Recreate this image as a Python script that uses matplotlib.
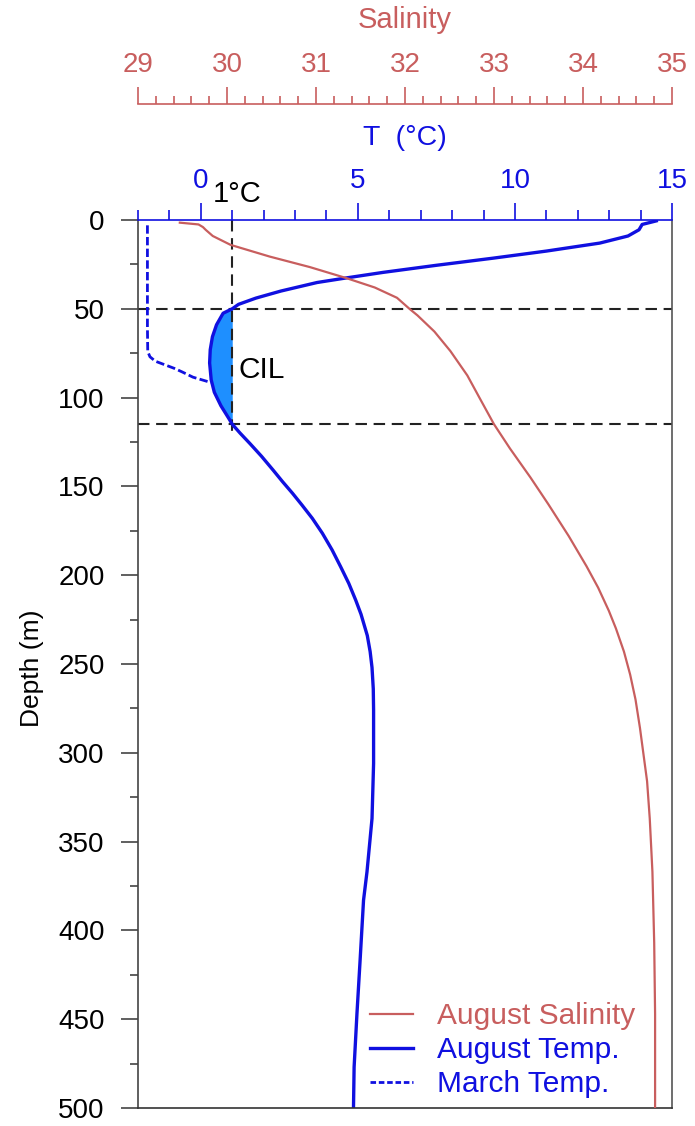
import numpy as np
import matplotlib.pyplot as plt
from matplotlib.ticker import MultipleLocator
from matplotlib.lines import Line2D

plt.rcParams['font.family'] = ['Liberation Sans', 'DejaVu Sans']

# August temperature profile (depth m, T degC)
aug_depth = np.array([0.5, 2.5, 5.5, 9, 13, 17.5, 21.5, 25.5, 29.5, 32.7, 35.2, 40, 44, 47.5,
                      50, 52.5, 59, 65.7, 73, 80.5, 90, 97, 104.6, 112, 115,
                      120, 126, 133, 140.8, 147.3, 153.9, 160.5, 168, 176.4, 185.8,
                      195.2, 204.6, 214, 222, 234, 243, 252, 264, 276, 306,
                      337, 367, 383, 417, 447, 477, 500])
aug_temp = np.array([14.5, 14.05, 13.95, 13.6, 12.7, 11.0, 9.3, 7.5, 5.8, 4.6, 3.7, 2.55, 1.75, 1.2,
                     1.0, 0.71, 0.5, 0.37, 0.30, 0.28, 0.33, 0.43, 0.64, 0.9, 1.0,
                     1.25, 1.57, 1.93, 2.3, 2.6, 2.92, 3.22, 3.55, 3.87, 4.18,
                     4.45, 4.71, 4.93, 5.1, 5.3, 5.39, 5.45, 5.49, 5.5, 5.5,
                     5.45, 5.29, 5.18, 5.07, 4.97, 4.88, 4.86])

# March temperature profile
mar_depth = np.array([3, 60, 74, 77, 79.5, 81.5, 83.5, 85.5, 88.5, 91.5])
mar_temp = np.array([-1.7, -1.7, -1.69, -1.62, -1.45, -1.15, -0.85, -0.6, -0.25, 0.32])

# August salinity profile
sal_depth = np.array([1.5, 2.5, 4, 5.5, 9, 14, 20.6, 26.5, 32.7, 38, 43.8, 50, 53.7, 62.8,
                      73.8, 87.5, 101.3, 115, 128.7, 145, 160, 178, 195, 207, 220, 230, 243,
                      256, 270, 286, 316, 337, 367, 407, 447, 500])
sal = np.array([29.47, 29.68, 29.73, 29.76, 29.84, 30.04, 30.48, 30.93, 31.34, 31.66, 31.91,
                32.05, 32.14, 32.33, 32.51, 32.70, 32.85, 33.0, 33.18, 33.41, 33.61, 33.84,
                34.04, 34.17, 34.29, 34.37, 34.46, 34.53, 34.59, 34.64, 34.72, 34.75, 34.78,
                34.80, 34.81, 34.81])

CIL_TEMP = 1.0
CIL_TOP = 50
CIL_BOTTOM = 115
VLINE_END = 122

labels = ['August Salinity', 'August Temp.', 'March Temp.']

red = '#c85e5e'
blue = '#1010e0'
dash = (0, (5.5, 3.2))

W, H = 695, 1126
fig = plt.figure(figsize=(W / 100, H / 100), dpi=100)
ax = fig.add_axes([138 / W, 1 - 1108 / H, 534 / W, 888 / H])
ax2 = ax.twiny()

# CIL shading and reference lines
inside = (aug_depth >= CIL_TOP) & (aug_depth <= CIL_BOTTOM)
ax.fill_betweenx(aug_depth, aug_temp, CIL_TEMP, where=inside, color='#1e8fff', lw=0, interpolate=True)
for d in (CIL_TOP, CIL_BOTTOM):
    ax.axhline(d, color='#222222', lw=1.5, ls=dash)
ax.vlines(CIL_TEMP, 0, VLINE_END, color='#222222', lw=1.5, ls=dash)

ax.plot(aug_temp, aug_depth, color=blue, lw=2.4)
ax.plot(mar_temp, mar_depth, color=blue, lw=2, ls=(0, (3, 1.2)))
ax2.plot(sal, sal_depth, color=red, lw=1.6)

# temperature axis (top spine)
ax.set_xlim(-2, 15)
ax.set_ylim(500, 0)
ax.xaxis.tick_top()
ax.set_xticks([0, 5, 10, 15])
ax.xaxis.set_minor_locator(MultipleLocator(1))
ax.tick_params(axis='x', which='both', direction='out', colors=blue, labelsize=20, pad=7, width=1.2)
ax.tick_params(axis='x', which='major', length=12)
ax.tick_params(axis='x', which='minor', length=7)
ax.spines['top'].set_color(blue)
ax.spines['top'].set_linewidth(1.2)

# depth axis
ax.yaxis.set_major_locator(MultipleLocator(50))
ax.yaxis.set_minor_locator(MultipleLocator(25))
ax.tick_params(axis='y', which='both', direction='out', color='#444444', width=1.2, labelsize=20, pad=12)
ax.tick_params(axis='y', which='major', length=12)
ax.tick_params(axis='y', which='minor', length=6)
ax.spines['left'].set_color('#444444')
ax.spines['right'].set_color('#555555')
ax.spines['bottom'].set_color('#333333')
for s in ('left', 'right', 'bottom'):
    ax.spines[s].set_linewidth(1.2)

# salinity axis, offset above
ax2.set_xlim(29, 35)
ax2.set_xticks(range(29, 36))
ax2.xaxis.set_minor_locator(MultipleLocator(0.2))
ax2.spines['top'].set_position(('outward', 83.5))
ax2.spines['top'].set_color(red)
ax2.spines['top'].set_linewidth(1.2)
for s in ('left', 'right', 'bottom'):
    ax2.spines[s].set_visible(False)
ax2.tick_params(axis='x', which='both', direction='out', colors=red, labelsize=20, pad=6.5, width=1.2)
ax2.tick_params(axis='x', which='major', length=12)
ax2.tick_params(axis='x', which='minor', length=5.5)

fig.text(405 / W, 1 - 20 / H, 'Salinity', color=red, fontsize=21, ha='center', va='center')
fig.text(405 / W, 1 - 138 / H, 'T  (°C)', color=blue, fontsize=20.5, ha='center', va='center')
fig.text(32 / W, 1 - 668 / H, 'Depth (m)', fontsize=19, rotation=90, ha='center', va='center')

ax.annotate('1°C', xy=(CIL_TEMP, 1), xycoords=('data', 'axes fraction'), xytext=(3.4, 18.4),
            textcoords='offset points', ha='center', va='center', fontsize=21)
ax.text(1.2, 84.5, 'CIL', fontsize=21.5, ha='left', va='center')

handles = [Line2D([], [], color=red, lw=1.6),
           Line2D([], [], color=blue, lw=2.4),
           Line2D([], [], color=blue, lw=2, ls=(0, (2, 1)))]
ax2.legend(handles, labels, loc='lower left', bbox_to_anchor=((370 - 138) / 534, 10 / 888),
           frameon=False, fontsize=21.5, handlelength=1.45, handletextpad=0.8, borderpad=0,
           borderaxespad=0, labelspacing=0.2, labelcolor=[red, blue, blue])

fig.savefig('out.png', dpi=100)
